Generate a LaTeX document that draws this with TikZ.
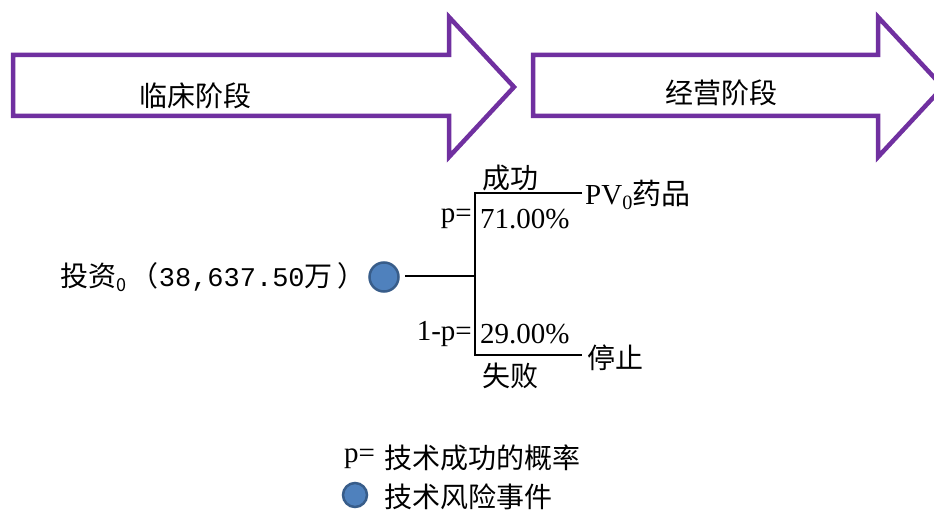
\documentclass[tikz,border=0pt]{standalone}
\usepackage{fontspec}
\setmainfont{Liberation Serif}
\newfontfamily\cjkfont{Noto Sans CJK SC}
\newfontfamily\digitfont{Liberation Mono}
\usetikzlibrary{positioning}
\definecolor{stageColor}{HTML}{7030A0}
\definecolor{eventFill}{HTML}{4F81BD}
\definecolor{eventDraw}{HTML}{385D8A}

\begin{document}
\begin{tikzpicture}[x=1pt,y=-1pt]

  \tikzstyle{stageArrow} = [line width=4.5pt, draw=stageColor, line join=miter];
  \tikzstyle{treeEdge} = [line width=1.6pt];
  \tikzstyle{riskEvent} = [circle, fill=eventFill, draw=eventDraw, line width=2.5pt, minimum size=29pt, inner sep=0pt];
  \tikzstyle{cjkText} = [font=\fontsize{28}{32}\selectfont\cjkfont, inner sep=0pt];
  \tikzstyle{serifText} = [font=\fontsize{29}{32}\selectfont, inner sep=0pt];

  \useasboundingbox (0,0) rectangle (934,513);
  \clip (0,0) rectangle (934,513);

  % stages
  \draw[stageArrow] (13,55) -- (449,55) -- (449,17) -- (514,87) -- (449,157) -- (449,116) -- (13,116) -- cycle;
  \draw[stageArrow] (533,55) -- (878,55) -- (878,17) -- (943,87) -- (878,157) -- (878,116) -- (533,116) -- cycle;
  \node[cjkText] (clinical) at (195,96) {临床阶段};
  \node[cjkText] (operating) at (721,93) {经营阶段};

  % tree
  \node[riskEvent] (risk) at (384,277) {};
  \node[cjkText, anchor=west] (invest) at (60,277) {投资{\fontsize{18}{18}\selectfont\raisebox{-5pt}{0}}\,（{\digitfont\fontsize{27}{30}\selectfont 38,637.50}万\,）};

  \coordinate (stemStart) at (405,276);
  \coordinate (fork) at (475,276);
  \coordinate (forkTop) at (475,193);
  \coordinate (forkBottom) at (475,355);
  \coordinate (successEnd) at (582,193);
  \coordinate (failEnd) at (582,355);

  \draw[treeEdge] (stemStart) -- (fork);
  \draw[treeEdge] (successEnd) -- (forkTop) -- (forkBottom) -- (failEnd);

  \node[serifText, right=3pt of successEnd, yshift=-2pt] (drugValue) {PV\textsubscript{0}{\cjkfont 药品}};
  \node[cjkText, right=5pt of failEnd, yshift=-3pt] (stop) {停止};
  \node[cjkText] (success) at (510,178) {成功};
  \node[cjkText] (failure) at (510,376) {失败};

  \node[serifText, anchor=east] (pSuccess) at (472,219) {p=};
  \node[serifText, anchor=west] (rateSuccess) at (480,219) {71.00\%};
  \node[serifText, anchor=east] (pFailure) at (472,334) {1-p=};
  \node[serifText, anchor=west] (rateFailure) at (480,334) {29.00\%};

  % legend
  \node[serifText, anchor=west] (legendP) at (344,459) {p=};
  \node[cjkText, anchor=west] (legendPText) at (384,458) {技术成功的概率};
  \node[riskEvent, minimum size=24pt] (legendEvent) at (355,495) {};
  \node[cjkText, anchor=west] (legendEventText) at (384,497) {技术风险事件};
\end{tikzpicture}
\end{document}
